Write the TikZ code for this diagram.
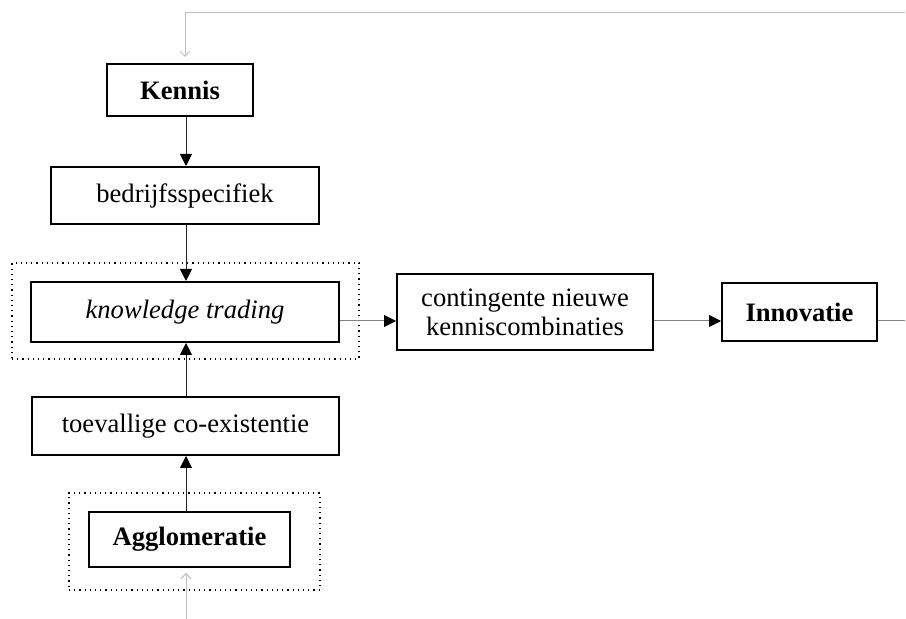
\documentclass[tikz,border=0pt]{standalone}
\usepackage{fontspec}
\setmainfont{Liberation Serif}
\usetikzlibrary{arrows.meta}
\begin{document}
\begin{tikzpicture}[x=0.5pt,y=-0.5pt,
  box/.style={draw=black,line width=1pt,fill=white,inner sep=0pt,align=center,
    font=\fontsize{13.3}{14.5}\selectfont},
  dotbox/.style={draw=black,line width=0.6pt,dotted,inner sep=0pt},
  conn/.style={draw=black!85,line width=0.5pt,-{Triangle[length=6pt,width=6pt,color=black]}},
  plain/.style={draw=black!50,line width=0.5pt},
  faint/.style={draw=black!25,line width=0.5pt,-{Straight Barb[length=2.5pt,width=5pt]}}]
\useasboundingbox (0,0) rectangle (906,619);
% dotted frames
\node[dotbox,minimum width=173.5pt,minimum height=48pt] (ktframe) at (185.5,311) {};
\node[dotbox,minimum width=125.5pt,minimum height=48.5pt] (aggframe) at (194.5,541.5) {};
% boxes
\node[box,minimum width=73pt,minimum height=26pt] (kennis) at (180,90) {\bfseries Kennis};
\node[box,minimum width=134pt,minimum height=28.5pt] (bedrijf) at (185,195.5) {bedrijfsspecifiek};
\node[box,minimum width=154pt,minimum height=30pt] (kt) at (185,312) {\itshape knowledge trading};
\node[box,minimum width=153.5pt,minimum height=29pt] (toev) at (185.5,426) {toevallige co-existentie};
\node[box,minimum width=100.5pt,minimum height=27.5pt] (agg) at (189.5,539.5) {\bfseries Agglomeratie};
\node[box,minimum width=128pt,minimum height=38pt] (cont) at (525,312) {contingente nieuwe\\kenniscombinaties};
\node[box,minimum width=77.5pt,minimum height=29pt] (innov) at (799.5,312) {\bfseries Innovatie};
% free ends
\coordinate (fbstart) at (905,13);
\coordinate (fbcorner) at (185,13);
\coordinate (fbend) at (185,57);
\coordinate (instart) at (186,619);
\coordinate (inend) at (186,573);
\coordinate (outend) at (905,321);
% connectors
\draw[faint] (fbstart) -- (fbcorner) -- (fbend);
\draw[conn] ([xshift=3pt]kennis.south) -- ([xshift=0.5pt]bedrijf.north);
\draw[conn] ([xshift=0.5pt]bedrijf.south) -- ([xshift=0.5pt]kt.north);
\draw[conn] ([xshift=0.25pt]toev.north) -- ([xshift=0.5pt]kt.south);
\draw[conn] ([xshift=-1.75pt]agg.north) -- ([xshift=0.25pt]toev.south);
\draw[faint] (instart) -- (inend);
\draw[conn,draw=black!50] ([yshift=-4.5pt]kt.east) -- ([yshift=-4.5pt]cont.west);
\draw[conn,draw=black!50] ([yshift=-4.5pt]cont.east) -- ([yshift=-4.5pt]innov.west);
\draw[plain] ([yshift=-4.5pt]innov.east) -- (outend);
\end{tikzpicture}
\end{document}
